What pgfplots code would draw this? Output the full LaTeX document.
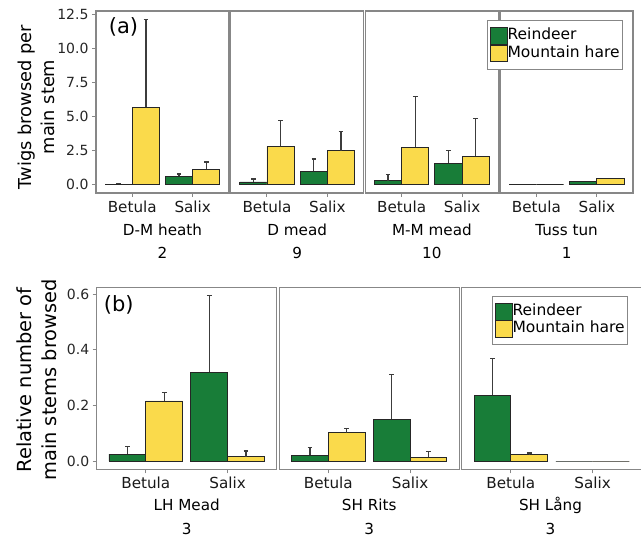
\documentclass[border=0pt]{standalone}
\usepackage{fontspec}
\setmainfont{DejaVu Sans}
\usepackage{pgfplots}
\pgfplotsset{compat=1.18}
\usepackage{pgfplotstable}
\definecolor{rein}{RGB}{24,125,56}
\definecolor{hare}{RGB}{250,218,75}
\definecolor{framec}{RGB}{135,135,135}
\definecolor{errc}{RGB}{60,60,60}

% top: twigs browsed per main stem
\pgfplotstableread{
x r re h he
1 0.05 0.05 5.70 6.45
2 0.61 0.17 1.15 0.51
}\tA
\pgfplotstableread{
x r re h he
1 0.20 0.22 2.81 1.88
2 0.98 0.90 2.49 1.42
}\tB
\pgfplotstableread{
x r re h he
1 0.29 0.44 2.76 3.71
2 1.59 0.90 2.10 2.74
}\tC
\pgfplotstableread{
x r re h he
1 0.00 0.00 0.00 0.00
2 0.22 0.00 0.49 0.00
}\tD
% bottom: relative number of main stems browsed
\pgfplotstableread{
x r re h he
1 0.025 0.026 0.216 0.030
2 0.319 0.276 0.016 0.020
}\bA
\pgfplotstableread{
x r re h he
1 0.020 0.028 0.101 0.015
2 0.150 0.160 0.014 0.020
}\bB
\pgfplotstableread{
x r re h he
1 0.236 0.134 0.022 0.007
}\bCb
\pgfplotstableread{
x r h
2 0.000 0.000
}\bCs

\pgfplotsset{
  panel/.style={
    scale only axis, anchor=south west,
    xmin=0.4, xmax=2.6, xtick={1,2}, xticklabels={Betula,Salix},
    axis line style={draw=framec, line width=1.3pt},
    tick align=outside, xtick pos=bottom, ytick pos=left,
    major tick length=4pt,
    tick style={draw=framec, line width=1pt},
    xticklabel style={font=\fontsize{15.2}{18}\selectfont, text=black!90},
    yticklabel style={font=\fontsize{14}{16}\selectfont, text=black!85},
    ybar, bar width=0.45,
    clip=false,
  },
  toprow/.style={panel, width=133pt, height=182pt, ymin=-0.61, ymax=12.76,
    ytick={0,2.5,5,7.5,10,12.5}},
  botrow/.style={panel, width=180pt, height=182pt, ymin=-0.0298, ymax=0.625,
    ytick={0,0.2,0.4,0.6}},
  noyticks/.style={ytick=\empty},
  rbar/.style={fill=rein, draw=black!85, line width=0.9pt, bar shift=-0.225},
  hbar/.style={fill=hare, draw=black!85, line width=0.9pt, bar shift=0.225},
  ebars/.style={error bars/.cd, y dir=plus, y explicit,
    error bar style={draw=errc, line width=1.3pt},
    error mark options={draw=errc, line width=1.3pt, mark size=2.3pt, rotate=90}},
  legstyle/.style={
    legend style={draw=framec, line width=1pt, fill=white, anchor=north west,
      font=\fontsize{15.5}{18}\selectfont, inner xsep=2.5pt, inner ysep=7pt,
      row sep=0pt, nodes={inner sep=0pt, text height=12pt, text depth=4.4pt},
      /tikz/every even column/.append style={column sep=1pt}},
    legend cell align=left,
    legend image code/.code={\draw[##1, line width=0.9pt] (0pt,-8.2pt) rectangle (17pt,8.2pt);},
  },
}

\begin{document}
\begin{tikzpicture}
\useasboundingbox (0pt,0pt) rectangle (641pt,537pt);

% ---------- top row ----------
\begin{axis}[toprow, at={(96pt,344pt)}, yticklabels={0.0,2.5,5.0,7.5,10.0,12.5}]
\addplot[rbar, ebars] table[x=x, y=r, y error=re] {\tA};
\addplot[hbar, ebars] table[x=x, y=h, y error=he] {\tA};
\node[anchor=west, font=\fontsize{21}{24}\selectfont] at (axis description cs:0.07,0.912) {(a)};
\end{axis}
\begin{axis}[toprow, noyticks, at={(230.7pt,344pt)}]
\addplot[rbar, ebars] table[x=x, y=r, y error=re] {\tB};
\addplot[hbar, ebars] table[x=x, y=h, y error=he] {\tB};
\end{axis}
\begin{axis}[toprow, noyticks, at={(365.4pt,344pt)}]
\addplot[rbar, ebars] table[x=x, y=r, y error=re] {\tC};
\addplot[hbar, ebars] table[x=x, y=h, y error=he] {\tC};
\end{axis}
\begin{axis}[toprow, noyticks, at={(500.1pt,344pt)}, legstyle,
  legend style={at={(axis description cs:-0.101,0.9505)}}]
\addplot[rbar] table[x=x, y=r] {\tD};
\addplot[hbar] table[x=x, y=h] {\tD};
\legend{Reindeer, Mountain hare}
\end{axis}

% ---------- bottom row ----------
\begin{axis}[botrow, at={(96.7pt,67.7pt)}, yticklabels={0.0,0.2,0.4,0.6}]
\addplot[rbar, ebars] table[x=x, y=r, y error=re] {\bA};
\addplot[hbar, ebars] table[x=x, y=h, y error=he] {\bA};
\node[anchor=west, font=\fontsize{21}{24}\selectfont] at (axis description cs:0.02,0.905) {(b)};
\end{axis}
\begin{axis}[botrow, noyticks, at={(279.2pt,67.7pt)}]
\addplot[rbar, ebars] table[x=x, y=r, y error=re] {\bB};
\addplot[hbar, ebars] table[x=x, y=h, y error=he] {\bB};
\end{axis}
\begin{axis}[botrow, noyticks, at={(461.7pt,67.7pt)}, legstyle,
  legend style={at={(axis description cs:0.1667,0.954)}}]
\addplot[rbar, ebars] table[x=x, y=r, y error=re] {\bCb};
\addplot[hbar, ebars] table[x=x, y=h, y error=he] {\bCb};
\legend{Reindeer, Mountain hare}
\addplot[rbar] table[x=x, y=r] {\bCs};
\addplot[hbar] table[x=x, y=h] {\bCs};
\end{axis}

% ---------- axis titles ----------
\node[rotate=90, align=center, font=\fontsize{17.8}{23.5}\selectfont] at (36.5pt,430pt) {Twigs browsed per\\main stem};
\node[rotate=90, align=center, font=\fontsize{19.4}{24.5}\selectfont] at (37pt,157pt) {Relative number of\\main stems browsed};

% ---------- group labels ----------
\begin{scope}[every node/.style={font=\fontsize{15.2}{18}\selectfont, anchor=base}]
\node at (162.5pt,301pt) {D-M heath};
\node at (162.5pt,278pt) {2};
\node at (297.2pt,301pt) {D mead};
\node at (297.2pt,278pt) {9};
\node at (431.9pt,301pt) {M-M mead};
\node at (431.9pt,278pt) {10};
\node at (566.6pt,301pt) {Tuss tun};
\node at (566.6pt,278pt) {1};
\node at (186.7pt,26.3pt) {LH Mead};
\node at (186.7pt,2.5pt) {3};
\node at (369.2pt,26.3pt) {SH Rits};
\node at (369.2pt,2.5pt) {3};
\node at (550.5pt,26.3pt) {SH Lång};
\node at (550.5pt,2.5pt) {3};
\end{scope}
\end{tikzpicture}
\end{document}
